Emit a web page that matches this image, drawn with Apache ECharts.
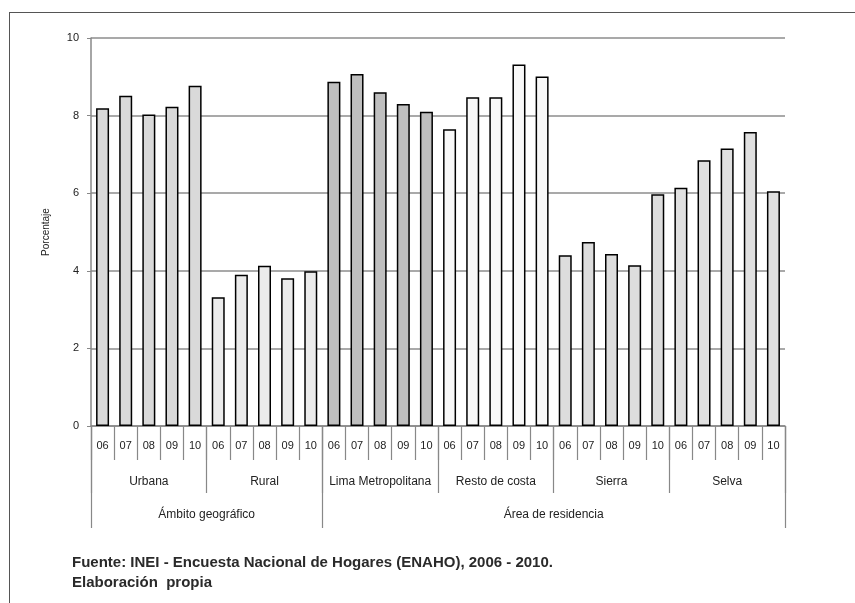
<!DOCTYPE html>
<html>
<head>
<meta charset="utf-8">
<script src="https://cdn.jsdelivr.net/npm/echarts@6/dist/echarts.min.js"></script>
<style>
html,body{margin:0;padding:0;background:#fff;}
#frame{position:absolute;left:9px;top:12px;width:900px;height:700px;border-left:1.5px solid #555;border-top:1.5px solid #555;}
#chart{position:absolute;left:0;top:0;width:855px;height:603px;}
</style>
</head>
<body>
<div id="frame"></div>
<div id="chart"></div>
<script>
// ---- data ----
const years = ['06','07','08','09','10'];
const groups = ['Urbana','Rural','Lima Metropolitana','Resto de costa','Sierra','Selva'];
const topGroups = ['Ámbito geográfico','Área de residencia'];
const topGroupSizes = [2,4]; // number of sub-groups in each top group
const urbana = [8.19,8.51,8.03,8.23,8.77];
const rural = [3.32,3.90,4.13,3.81,3.99];
const limaMetropolitana = [8.87,9.07,8.60,8.30,8.10];
const restoCosta = [7.65,8.47,8.47,9.32,9.01];
const sierra = [4.40,4.74,4.43,4.14,5.97];
const selva = [6.14,6.85,7.15,7.58,6.05];
const yTicks = [0,2,4,6,8,10];
const footer = 'Fuente: INEI - Encuesta Nacional de Hogares (ENAHO), 2006 - 2010.\nElaboración  propia';

// ---- build ----
const groupValues = [urbana, rural, limaMetropolitana, restoCosta, sierra, selva];
const groupColors = ['#d9d9d9','#ebebeb','#bfbfbf','#f8f8f8','#dddddd','#e0e0e0'];
const cats = [];
const barData = [];
groupValues.forEach((vals, g) => {
  vals.forEach((v, i) => {
    cats.push(years[i]);
    barData.push({value: v, itemStyle: {color: groupColors[g]}});
  });
});
const nBars = cats.length;
// top level axis: boundary points 0..nBars
const topData = new Array(nBars + 1).fill('');
const topBoundaries = [0];
let acc = 0;
topGroupSizes.forEach((s, k) => {
  const start = acc;
  acc += s * years.length;
  topBoundaries.push(acc);
  topData[Math.round((start + acc) / 2)] = topGroups[k];
});

const FONT = 'Liberation Sans, Arial, sans-serif';
const tickColor = '#888';

const chart = echarts.init(document.getElementById('chart'), null, {renderer: 'canvas'});
chart.setOption({
  backgroundColor: 'transparent',
  animation: false,
  textStyle: {fontFamily: FONT},
  title: {
    text: footer,
    left: 72,
    top: 553,
    padding: 0,
    textStyle: {fontFamily: 'Liberation Sans Narrow, Arial Narrow, Liberation Sans, sans-serif', fontWeight: 'bold', fontSize: 15, color: '#2a2a2a', lineHeight: 20}
  },
  grid: {left: 91, right: 70, top: 38, bottom: 177, containLabel: false},
  xAxis: [
    {
      type: 'category', data: cats, position: 'bottom', offset: 0,
      axisLine: {show: true, lineStyle: {color: tickColor, width: 1.5}},
      axisTick: {show: true, interval: 0, length: 34, lineStyle: {color: tickColor, width: 1.2}},
      axisLabel: {interval: 0, margin: 14, fontSize: 11, color: '#222', fontFamily: FONT},
      splitLine: {show: false}
    },
    {
      type: 'category', data: groups, position: 'bottom', offset: 0,
      axisLine: {show: false},
      axisTick: {show: true, interval: 0, length: 67, lineStyle: {color: tickColor, width: 1.2}},
      axisLabel: {interval: 0, margin: 50, fontSize: 12, color: '#222', fontFamily: FONT},
      splitLine: {show: false}
    },
    {
      type: 'category', data: topData, position: 'bottom', offset: 0, boundaryGap: false,
      axisLine: {show: false},
      axisTick: {show: true, interval: (i) => topBoundaries.indexOf(i) >= 0, length: 102, lineStyle: {color: tickColor, width: 1.2}},
      axisLabel: {interval: 0, margin: 83, fontSize: 12, color: '#222', fontFamily: FONT},
      splitLine: {show: false}
    }
  ],
  yAxis: {
    type: 'value', min: yTicks[0], max: yTicks[yTicks.length - 1], interval: yTicks[1] - yTicks[0],
    name: 'Porcentaje', nameLocation: 'middle', nameGap: 40, nameRotate: 90,
    nameTextStyle: {fontSize: 10, color: '#222', fontFamily: FONT},
    axisLine: {show: true, lineStyle: {color: tickColor, width: 1.5}},
    axisTick: {show: true, length: 4, lineStyle: {color: tickColor}},
    axisLabel: {margin: 12, fontSize: 11, color: '#222', fontFamily: FONT},
    splitLine: {show: true, lineStyle: {color: '#8c8c8c', width: 1.5}}
  },
  series: [{
    type: 'bar', xAxisIndex: 0, data: barData, barWidth: 13,
    itemStyle: {borderColor: '#000', borderWidth: 1.5}
  }]
});
</script>
</body>
</html>
